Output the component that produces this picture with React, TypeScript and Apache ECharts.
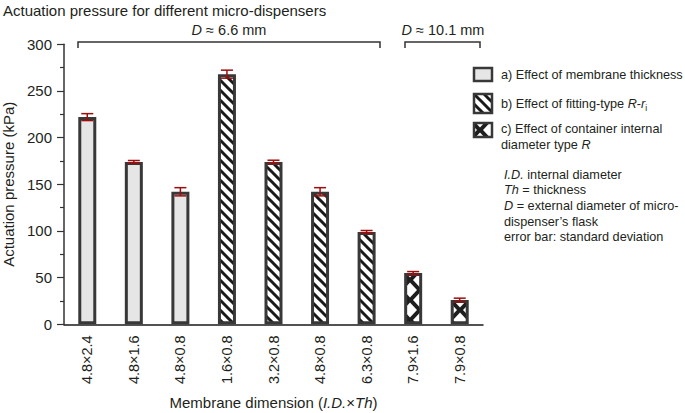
import React, { useEffect, useRef } from 'react';
import * as echarts from 'echarts';

const categories = ['4.8×2.4', '4.8×1.6', '4.8×0.8', '1.6×0.8', '3.2×0.8', '4.8×0.8', '6.3×0.8', '7.9×1.6', '7.9×0.8'];
const pressure = [222, 174, 142, 268, 174, 142, 99, 55, 26];
const stdDev = [3.7, 1.5, 4.4, 4.3, 1.8, 4.4, 1.5, 1.5, 2];
const groups = ['a', 'a', 'a', 'b', 'b', 'b', 'b', 'c', 'c'];
const yTicks = [0, 50, 100, 150, 200, 250, 300];

const FONT = "'Liberation Sans', Arial, sans-serif";
const TXT = '#231f20';
const BORDER = '#383838';
const ERR = '#a00c0c';

function stripeCanvas() {
  const c = document.createElement('canvas');
  c.width = 10; c.height = 10;
  const g = c.getContext('2d')!;
  g.fillStyle = '#ffffff'; g.fillRect(0, 0, 10, 10);
  g.strokeStyle = '#1a1a1a'; g.lineWidth = 3.0;
  for (let k = -1; k <= 1; k++) {
    g.beginPath(); g.moveTo(k * 10 - 5, -5); g.lineTo(k * 10 + 15, 15); g.stroke();
  }
  return c;
}

function diamondCanvas() {
  const c = document.createElement('canvas');
  c.width = 20; c.height = 20;
  const g = c.getContext('2d')!;
  g.fillStyle = '#1e1e1e'; g.fillRect(0, 0, 20, 20);
  g.fillStyle = '#ffffff';
  const d = (cx: number, cy: number) => {
    g.beginPath(); g.moveTo(cx, cy - 7.5); g.lineTo(cx + 7, cy); g.lineTo(cx, cy + 7.5); g.lineTo(cx - 7, cy); g.closePath(); g.fill();
  };
  [[10, 10], [0, 0], [20, 0], [0, 20], [20, 20]].forEach(([x, y]) => d(x, y));
  return c;
}

export default function App() {
  const ref = useRef<HTMLDivElement>(null);
  useEffect(() => {
    if (!ref.current) return;
    const chart = echarts.init(ref.current, null, { renderer: 'svg' });
    const stripes = stripeCanvas();
    const diamonds = diamondCanvas();
    const stripePattern = { image: stripes, repeat: 'repeat', imageWidth: 10, imageHeight: 10 };
    const diamondPattern = (x: number, y: number) => ({ image: diamonds, repeat: 'repeat', imageWidth: 20, imageHeight: 20, x, y });

    const groupColor: Record<string, any> = { a: '#e6e6e6', b: stripePattern, c: '#1e1e1e' };

    const build = (cPatterns: Record<number, any>) => {
      const barSeries = ['a', 'b', 'c'].map((g) => ({
        type: 'bar',
        name: g,
        stack: 'all',
        barWidth: 18,
        itemStyle: { color: groupColor[g], borderColor: BORDER, borderWidth: 3 },
        data: pressure.map((v, i) =>
          groups[i] === g
            ? (g === 'c' && cPatterns[i] ? { value: v, itemStyle: { color: cPatterns[i] } } : v)
            : '-'
        ),
        z: 2,
      }));
      return {
        animation: false,
        title: {
          text: 'Actuation pressure for different micro-dispensers',
          left: -2, top: -2,
          textStyle: { fontFamily: FONT, fontSize: 15, fontWeight: 'normal', color: TXT },
        },
        grid: { left: 64, right: 202, top: 44.3, bottom: 88.7, containLabel: false, outerBoundsMode: 'none' },
        xAxis: {
          type: 'category',
          data: categories,
          axisLine: { lineStyle: { color: '#1a1a1a', width: 1.5 } },
          axisTick: { alignWithLabel: true, length: 6, lineStyle: { color: '#1a1a1a', width: 1.2 } },
          axisLabel: { rotate: 90, margin: 11, fontFamily: FONT, fontSize: 14.5, color: TXT },
          name: 'Membrane dimension ({i|I.D.}×{i|Th})',
          nameLocation: 'middle',
          nameGap: 71,
          nameTextStyle: {
            fontFamily: FONT, fontSize: 15, color: TXT,
            rich: { i: { fontFamily: FONT, fontSize: 15, fontStyle: 'italic', color: TXT } },
          },
        },
        yAxis: {
          type: 'value',
          min: yTicks[0], max: yTicks[yTicks.length - 1], interval: 50,
          splitLine: { show: false },
          axisLine: { show: true, lineStyle: { color: '#333', width: 1.5 } },
          axisTick: { show: true, length: 7, lineStyle: { color: '#333', width: 1.2 } },
          minorTick: { show: true, splitNumber: 2, length: 4, lineStyle: { color: '#333', width: 1.2 } },
          axisLabel: { margin: 12, fontFamily: FONT, fontSize: 15, color: TXT },
          name: 'Actuation pressure (kPa)',
          nameLocation: 'middle',
          nameGap: 45,
          nameTextStyle: { fontFamily: FONT, fontSize: 15, color: TXT },
        },
        series: [
          ...barSeries,
          {
            type: 'custom',
            name: 'error',
            data: pressure.map((v, i) => [i, v - stdDev[i], v + stdDev[i]]),
            encode: { x: 0, y: [1, 2] },
            z: 10,
            renderItem: (params: any, api: any) => {
              const x = api.value(0);
              const lo = api.coord([x, api.value(1)]);
              const hi = api.coord([x, api.value(2)]);
              const w = 6;
              const style = { stroke: ERR, lineWidth: 1.5 };
              return {
                type: 'group',
                children: [
                  { type: 'line', shape: { x1: lo[0], y1: hi[1], x2: lo[0], y2: lo[1] }, style },
                  { type: 'line', shape: { x1: lo[0] - w, y1: hi[1], x2: lo[0] + w, y2: hi[1] }, style },
                  { type: 'line', shape: { x1: lo[0] - w, y1: lo[1], x2: lo[0] + w, y2: lo[1] }, style },
                ],
              };
            },
          },
        ],
        graphic: [
          { type: 'polyline', shape: { points: [[78, 48], [78, 42], [380, 42], [380, 48]] }, style: { stroke: '#333', lineWidth: 1.5, fill: null } },
          { type: 'polyline', shape: { points: [[405, 48], [405, 42], [480, 42], [480, 48]] }, style: { stroke: '#333', lineWidth: 1.5, fill: null } },
          {
            type: 'text', x: 229, y: 30,
            style: { text: '{i|D} ≈ 6.6 mm', align: 'center', verticalAlign: 'middle', fontFamily: FONT, fontSize: 14.5, fill: TXT,
              rich: { i: { fontStyle: 'italic', fontFamily: FONT, fontSize: 14.5, fill: TXT } } },
          },
          {
            type: 'text', x: 443, y: 30,
            style: { text: '{i|D} ≈ 10.1 mm', align: 'center', verticalAlign: 'middle', fontFamily: FONT, fontSize: 14.5, fill: TXT,
              rich: { i: { fontStyle: 'italic', fontFamily: FONT, fontSize: 14.5, fill: TXT } } },
          },
          // legend icons
          { type: 'rect', shape: { x: 474, y: 68, width: 18, height: 13 }, style: { fill: '#e6e6e6', stroke: BORDER, lineWidth: 2.5 } },
          { type: 'rect', shape: { x: 474, y: 94, width: 18, height: 19 }, style: { fill: stripePattern, stroke: BORDER, lineWidth: 2.5 } },
          { type: 'rect', shape: { x: 474, y: 123, width: 18, height: 14 }, style: { fill: diamondPattern(473, 113), stroke: BORDER, lineWidth: 2.5 } },
          // legend texts
          {
            type: 'text', x: 501, y: 75,
            style: { text: 'a) Effect of membrane thickness', verticalAlign: 'middle', fontFamily: FONT, fontSize: 12.7, fill: TXT },
          },
          {
            type: 'text', x: 501, y: 104,
            style: {
              text: 'b) Effect of fitting-type {i|R}-{i|r}{s|i}', verticalAlign: 'middle', fontFamily: FONT, fontSize: 12.7, fill: TXT,
              rich: {
                i: { fontStyle: 'italic', fontFamily: FONT, fontSize: 12.7, fill: TXT, lineHeight: 16 },
                s: { fontFamily: FONT, fontSize: 8.5, fill: TXT, verticalAlign: 'bottom', lineHeight: 9 },
              },
            },
          },
          {
            type: 'text', x: 501, y: 121,
            style: {
              text: 'c) Effect of container internal\ndiameter type {i|R}', verticalAlign: 'top', fontFamily: FONT, fontSize: 12.7, lineHeight: 16, fill: TXT,
              rich: { i: { fontStyle: 'italic', fontFamily: FONT, fontSize: 12.7, fill: TXT, lineHeight: 16 } },
            },
          },
          {
            type: 'text', x: 504, y: 167,
            style: {
              text: '{i|I.D.} internal diameter\n{i|Th} = thickness\n{i|D} = external diameter of micro-\ndispenser’s flask\nerror bar: standard deviation',
              verticalAlign: 'top', fontFamily: FONT, fontSize: 12.7, lineHeight: 15.6, fill: TXT,
              rich: { i: { fontStyle: 'italic', fontFamily: FONT, fontSize: 12.7, fill: TXT, lineHeight: 15.6 } },
            },
          },
        ],
      };
    };

    chart.setOption(build({}));
    const cPatterns: Record<number, any> = {};
    pressure.forEach((v, i) => {
      if (groups[i] !== 'c') return;
      const cx = chart.convertToPixel({ xAxisIndex: 0 }, i) as number;
      const top = chart.convertToPixel({ yAxisIndex: 0 }, v) as number;
      cPatterns[i] = diamondPattern(cx - 10, top + 4);
    });
    chart.setOption(build(cPatterns));
    return () => chart.dispose();
  }, []);
  return <div ref={ref} style={{ position: 'absolute', left: 0, top: 0, width: 685, height: 413 }} />;
}
